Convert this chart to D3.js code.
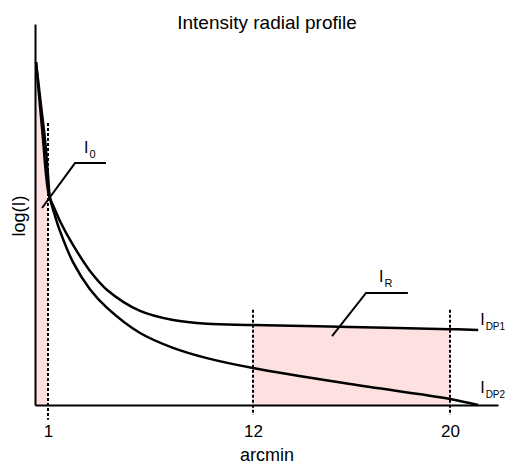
<!DOCTYPE html>
<html>
<head>
<meta charset="utf-8">
<script src="https://cdn.jsdelivr.net/npm/d3@7"></script>
<style>
  body { margin: 0; background: #fff; }
  svg text { font-family: "Liberation Sans", Arial, sans-serif; fill: #000; }
</style>
</head>
<body>
<div id="chart"></div>
<script>
// x in arcmin (schematic, uneven spacing), y in log(I) arbitrary units
const xBreaks = [0, 1, 12, 20, 21.94];
const xTicks = [1, 12, 20];

const dp1X = [0.08, 0.38, 0.62, 0.85, 1.05, 1.38, 1.64, 2.34, 3.25, 4.17, 5.94, 7.71, 9.53, 12, 15.94, 20, 21.14];
const dp1Y = [9.0, 7.87, 6.96, 6.04, 5.51, 5.12, 4.83, 4.20, 3.52, 3.02, 2.47, 2.23, 2.13, 2.10, 2.05, 1.99, 1.97];

const dp2X = [0.08, 0.46, 0.77, 1.0, 1.11, 1.38, 1.64, 2.34, 3.25, 4.17, 5.94, 7.71, 9.53, 12, 15.94, 20, 21.14];
const dp2Y = [9.0, 7.87, 6.96, 6.04, 5.43, 4.96, 4.57, 3.75, 3.04, 2.55, 1.89, 1.50, 1.23, 0.97, 0.55, 0.16, 0];

// dashed markers: x value, top and bottom (log units)
const markerX = [1, 12, 20];
const markerTop = [7.4, 2.5, 2.5];
const markerLow = [-0.39, -0.26, -0.26];

// shaded bands
const shadeFrom = [0, 12];
const shadeTo = [1, 20];
const shadeSeries = ['dp2', 'dp1'];

// annotation labels
const annText = ['I', 'I', 'I', 'I'];
const annSub = ['0', 'R', 'DP1', 'DP2'];
const annX = [2.93, 17.12, 21.22, 21.22];
const annY = [6.61, 3.23, 2.10, 0.31];
// leader lines for I0 and IR
const leaders = [
  [[0.54, 5.17], [2.45, 6.35], [4.11, 6.35]],
  [[15.21, 1.81], [16.59, 2.94], [18.29, 2.94]]
];

let width = 505,
    height = 464;

let x = d3.scaleLinear()
  .domain(xBreaks)
  .range([35, 48, 253, 450, 498]);

let y = d3.scaleLinear()
  .domain([0, 10])
  .range([405, 24]);

let series = {
  dp1: dp1X.map((v, i) => ({x: v, y: dp1Y[i]})),
  dp2: dp2X.map((v, i) => ({x: v, y: dp2Y[i]}))
};

let svg = d3.select('#chart')
  .append('svg')
  .attr('width', width)
  .attr('height', height);

// Shaded regions (area under the curve, clipped to each band)
let area = d3.area()
  .x(d => x(d.x))
  .y0(y(0))
  .y1(d => y(d.y))
  .curve(d3.curveCatmullRom.alpha(0.5));

shadeFrom.forEach((a, i) => {
  let id = 'clip' + i;
  svg.append('clipPath')
    .attr('id', id)
    .append('rect')
    .attr('x', x(a))
    .attr('y', 0)
    .attr('width', x(shadeTo[i]) - x(a))
    .attr('height', y(0));

  svg.append('path')
    .datum(series[shadeSeries[i]])
    .attr('d', area)
    .attr('fill', '#fde0e0')
    .attr('clip-path', `url(#${id})`);
});

// Dashed markers
svg.selectAll('.marker')
  .data(markerX)
  .enter()
  .append('line')
  .attr('class', 'marker')
  .attr('x1', d => x(d))
  .attr('x2', d => x(d))
  .attr('y1', (d, i) => y(markerTop[i]))
  .attr('y2', (d, i) => y(markerLow[i]))
  .attr('stroke', '#000')
  .attr('stroke-width', 2)
  .attr('stroke-dasharray', '3,2');

// Curves
let line = d3.line()
  .x(d => x(d.x))
  .y(d => y(d.y))
  .curve(d3.curveCatmullRom.alpha(0.5));

['dp1', 'dp2'].forEach(k => {
  svg.append('path')
    .datum(series[k])
    .attr('d', line)
    .attr('fill', 'none')
    .attr('stroke', '#000')
    .attr('stroke-width', 2.5);
});

// Axes
let xAxis = svg.append('g')
  .attr('transform', `translate(0, ${y(0)})`)
  .call(d3.axisBottom(x).tickValues(xTicks).tickSize(0).tickSizeOuter(0).tickPadding(20).tickFormat(d3.format('d')));

xAxis.select('.domain').attr('stroke-width', 2);
xAxis.selectAll('text')
  .attr('font-size', 17)
  .attr('font-family', '"Liberation Sans", Arial, sans-serif')
  .attr('fill', '#000');

let yAxis = svg.append('g')
  .attr('transform', `translate(${x(0)}, 0)`)
  .call(d3.axisLeft(y).tickValues([]).tickSize(0).tickSizeOuter(0));

yAxis.select('.domain').attr('stroke-width', 2);

// Leader lines
leaders.forEach(pts => {
  svg.append('path')
    .attr('d', d3.line().x(d => x(d[0])).y(d => y(d[1]))(pts))
    .attr('fill', 'none')
    .attr('stroke', '#000')
    .attr('stroke-width', 2);
});

// Labels with subscripts
annText.forEach((t, i) => {
  let txt = svg.append('text')
    .attr('x', x(annX[i]))
    .attr('y', y(annY[i]))
    .attr('font-size', 16);
  txt.append('tspan').text(t);
  txt.append('tspan')
    .attr('dx', 1)
    .attr('dy', 5)
    .attr('font-size', annSub[i].length > 1 ? 10 : 11)
    .text(annSub[i]);
});

// Titles
svg.append('text')
  .attr('x', 267)
  .attr('y', 29)
  .attr('text-anchor', 'middle')
  .attr('font-size', 19)
  .text('Intensity radial profile');

svg.append('text')
  .attr('x', 267)
  .attr('y', 461)
  .attr('text-anchor', 'middle')
  .attr('font-size', 18)
  .text('arcmin');

svg.append('text')
  .attr('transform', 'translate(25, 216) rotate(-90)')
  .attr('text-anchor', 'middle')
  .attr('font-size', 18)
  .text('log(I)');
</script>
</body>
</html>
